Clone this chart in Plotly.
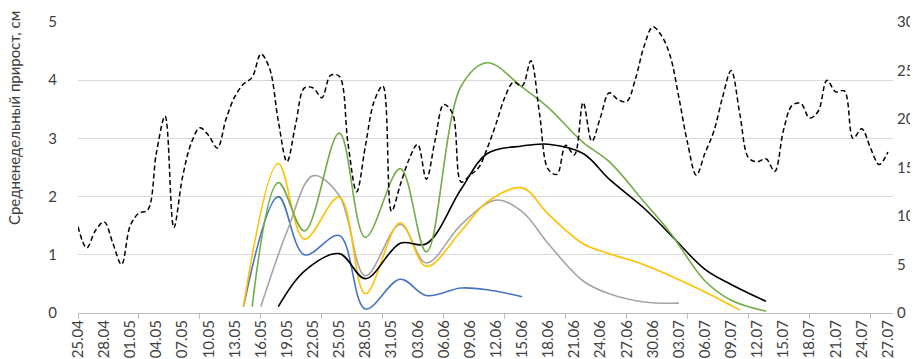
import pandas as pd
import plotly.graph_objects as go

YEAR = "2021"

# x-axis labels (every 3 days)
tick_labels = ["25.04", "28.04", "01.05", "04.05", "07.05", "10.05", "13.05", "16.05",
               "19.05", "22.05", "25.05", "28.05", "31.05", "03.06", "06.06", "09.06",
               "12.06", "15.06", "18.06", "21.06", "24.06", "27.06", "30.06", "03.07",
               "06.07", "09.07", "12.07", "15.07", "18.07", "21.07", "24.07", "27.07"]

# daily air temperature (right axis), 25.04 .. 27.07
temp_start, temp_end = "25.04", "27.07"
temperature = [8.9, 6.7, 8.5, 9.4, 7.2, 5.0, 9.0, 10.3, 10.6, 16.5,
               20.3, 8.8, 14.0, 17.5, 19.1, 18.3, 17.0, 20.0, 22.3, 23.6,
               24.3, 26.7, 25.2, 19.8, 15.6, 19.5, 23.2, 23.2, 22.2, 24.5,
               24.4, 17.5, 12.5, 17.2, 21.8, 23.4, 10.5, 13.2, 15.8, 17.4,
               13.8, 17.8, 21.5, 20.6, 13.5, 14.2, 15.0, 17.0, 19.5, 22.2,
               23.8, 23.4, 26.0, 20.5, 14.8, 14.3, 17.3, 16.3, 21.7, 17.7,
               20.2, 22.7, 22.0, 21.8, 24.1, 27.5, 29.5, 28.6, 26.5, 22.2,
               17.5, 14.2, 16.5, 18.7, 22.2, 25.0, 20.5, 16.0, 15.6, 15.9,
               14.6, 18.8, 21.4, 21.6, 20.1, 20.8, 24.0, 22.8, 22.9, 18.0,
               19.0, 17.0, 15.3, 16.6]

# growth series (left axis)
blue_dates = ["14.05", "18.05", "21.05", "25.05", "28.05", "01.06", "04.06", "08.06", "11.06", "15.06"]
blue_vals = [0.11, 2.0, 1.0, 1.33, 0.07, 0.58, 0.30, 0.43, 0.40, 0.28]

yellow_dates = ["14.05", "18.05", "21.05", "25.05", "28.05", "01.06", "04.06", "08.06", "11.06",
                "15.06", "18.06", "22.06", "25.06", "29.06", "02.07", "06.07", "10.07"]
yellow_vals = [0.11, 2.57, 1.27, 1.99, 0.33, 1.55, 0.80, 1.41, 1.91,
               2.15, 1.70, 1.19, 1.02, 0.83, 0.64, 0.36, 0.05]

gray_dates = ["16.05", "19.05", "22.05", "25.05", "28.05", "01.06", "04.06", "08.06", "12.06",
              "15.06", "18.06", "22.06", "25.06", "29.06", "03.07"]
gray_vals = [0.11, 1.4, 2.36, 2.02, 0.64, 1.52, 0.86, 1.52, 1.94,
             1.74, 1.19, 0.55, 0.33, 0.19, 0.17]

green_dates = ["15.05", "18.05", "21.05", "25.05", "28.05", "01.06", "04.06", "08.06", "11.06",
               "15.06", "18.06", "22.06", "25.06", "29.06", "02.07", "06.07", "09.07", "13.07"]
green_vals = [0.11, 2.24, 1.41, 3.09, 1.30, 2.48, 1.05, 3.9, 4.3,
              3.88, 3.53, 2.93, 2.6, 1.91, 1.38, 0.55, 0.22, 0.03]

black_dates = ["18.05", "21.05", "25.05", "28.05", "01.06", "04.06", "08.06", "11.06", "15.06",
               "18.06", "22.06", "25.06", "29.06", "02.07", "06.07", "09.07", "13.07"]
black_vals = [0.11, 0.72, 1.02, 0.59, 1.2, 1.19, 2.13, 2.74, 2.87,
              2.90, 2.74, 2.30, 1.80, 1.35, 0.75, 0.49, 0.2]

COLORS = {"blue": "#4472C4", "yellow": "#FFC000", "gray": "#A5A5A5",
          "green": "#70AD47", "black": "#000000"}


def to_date(s):
    d, m = s.split(".")
    return pd.Timestamp(f"{YEAR}-{m}-{d}")


FONT = "Lato, 'Open Sans', sans-serif"

fig = go.Figure()

for name, dates, vals in [("blue", blue_dates, blue_vals),
                          ("gray", gray_dates, gray_vals),
                          ("yellow", yellow_dates, yellow_vals),
                          ("black", black_dates, black_vals),
                          ("green", green_dates, green_vals)]:
    fig.add_trace(go.Scatter(
        x=[to_date(s) for s in dates], y=vals, mode="lines",
        line=dict(color=COLORS[name], width=1.6, shape="spline", smoothing=1.0),
        showlegend=False, hoverinfo="x+y"))

temp_dates = pd.date_range(to_date(temp_start), to_date(temp_end), freq="D")
fig.add_trace(go.Scatter(
    x=temp_dates, y=temperature, mode="lines", yaxis="y2",
    line=dict(color="#000000", width=1.5, dash="5px,3px", shape="spline", smoothing=1.0),
    showlegend=False))

start = to_date(tick_labels[0])
x_end = to_date(tick_labels[-1]) + pd.Timedelta(hours=14)

fig.update_layout(
    width=918, height=359,
    margin=dict(l=70, r=33, t=4, b=54),
    plot_bgcolor="white", paper_bgcolor="white",
    font=dict(family=FONT, size=15, color="#404040"),
    xaxis=dict(
        type="date", range=[start, x_end],
        tickmode="array", tickvals=[to_date(s) for s in tick_labels], ticktext=tick_labels,
        tickangle=-90, ticks="", showgrid=False,
        showline=True, linecolor="#BFBFBF", linewidth=1,
        tickfont=dict(family=FONT, size=15, color="#404040"),
        minor=dict(tick0=start, dtick=7 * 86400000, ticks="outside", ticklen=5,
                   tickcolor="#BFBFBF", tickwidth=1, showgrid=False),
    ),
    yaxis=dict(
        range=[0, 5], tickmode="linear", tick0=0, dtick=1,
        showgrid=True, gridcolor="#D9D9D9", gridwidth=1,
        zeroline=False, showline=False, ticks="",
        ticklabelstandoff=20, ticklabeloverflow="allow",
        tickfont=dict(family=FONT, size=15, color="#404040"),
    ),
    yaxis2=dict(
        range=[0, 30], tickmode="linear", tick0=0, dtick=5,
        overlaying="y", side="right", showgrid=False,
        zeroline=False, showline=False, ticks="",
        ticklabelstandoff=3, ticklabeloverflow="allow",
        tickfont=dict(family=FONT, size=15, color="#404040"),
    ),
    annotations=[dict(
        text="Средненедельный прирост, см", xref="paper", yref="paper",
        x=-0.0785, y=0.67, xanchor="center", yanchor="middle", textangle=-90,
        showarrow=False, font=dict(family=FONT, size=15, color="#404040"))],
)

fig.write_html("out.html")
